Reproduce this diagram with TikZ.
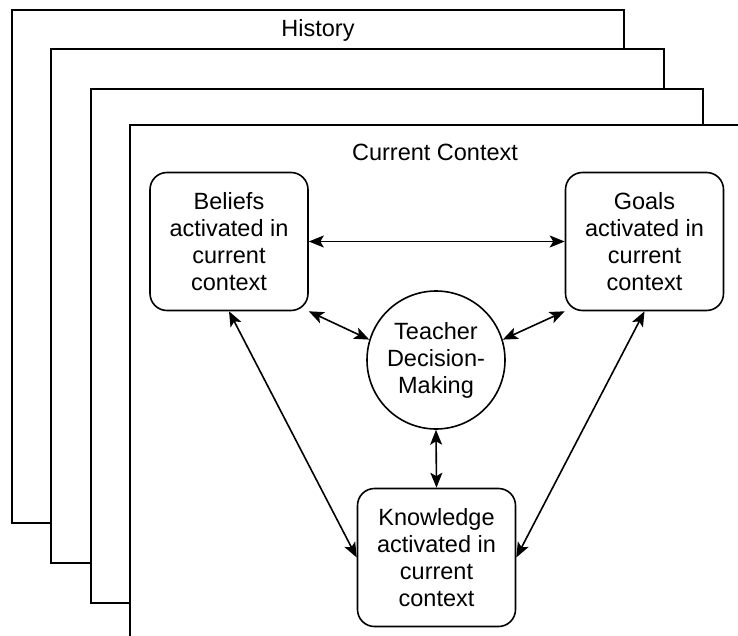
\documentclass[tikz,border=0pt]{standalone}
\usepackage{fontspec}
\setmainfont{Liberation Sans}
\usetikzlibrary{arrows.meta,calc}
\begin{document}
\begin{tikzpicture}[x=1pt,y=-1pt,
  frame/.style={draw, line width=1.6pt, fill=white},
  lbl/.style={font=\fontsize{23.5}{27}\selectfont, inner sep=0pt},
  box/.style={draw, line width=1.6pt, rounded corners=17pt, minimum width=158pt,
    minimum height=138pt, align=center, font=\fontsize{23.5}{27}\selectfont, inner sep=0pt},
  dm/.style={draw, circle, line width=1.6pt, minimum size=138pt, align=center,
    font=\fontsize{23.5}{27}\selectfont, inner sep=0pt},
  link/.style={line width=1.6pt, {Stealth[length=15pt,width=12pt,inset=3.5pt]}-{Stealth[length=15pt,width=12pt,inset=3.5pt]}}
]
\clip (0,0) rectangle (738,636);
\fill[white] (0,0) rectangle (738,636);
\draw[frame] (12,10) rectangle (624,523);
\draw[frame] (51,49) rectangle (664,563);
\draw[frame] (91,89) rectangle (703,603);
\draw[frame] (130,125) rectangle (760,660);
\node[lbl] (hist) at (318,30) {History};
\node[lbl] (cur) at (435,152) {Current Context};
\node[box] (B) at (229,241.5) {Beliefs\\activated in\\current\\context};
\node[box] (G) at (644.5,241.5) {Goals\\activated in\\current\\context};
\node[box] (K) at (436.5,557.5) {Knowledge\\activated in\\current\\context};
\node[dm] (C) at (436,360) {Teacher\\Decision-\\Making};
\draw[link] (B.east) -- (G.west);
\draw[link] (B.south east) -- (C.163);
\draw[link] (G.south west) -- (C.17);
\draw[link] (C.south) -- (K.north);
\draw[link] (B.south) -- (K.west);
\draw[link] (G.south) -- (K.east);
\end{tikzpicture}
\end{document}
